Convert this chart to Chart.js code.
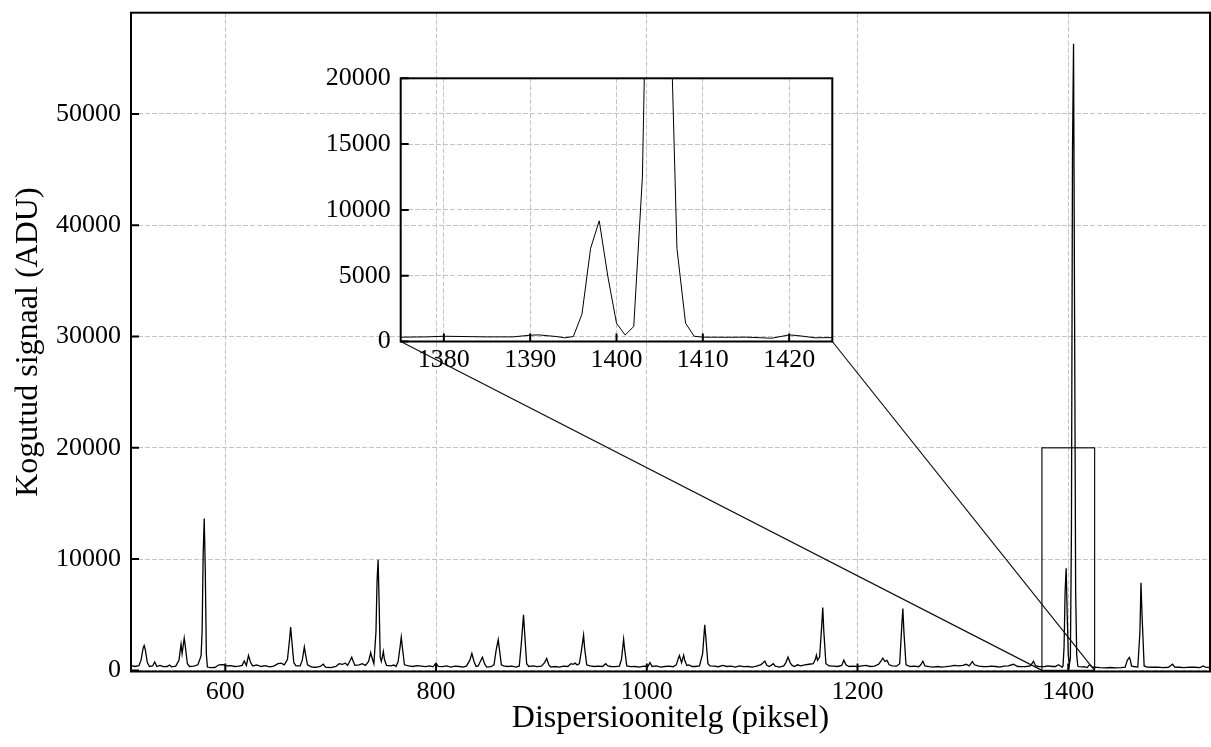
<!DOCTYPE html>
<html>
<head>
<meta charset="utf-8">
<script src="https://cdn.jsdelivr.net/npm/chart.js@4"></script>
<style>
  body { margin: 0; background: #fff; }
  #wrap { position: relative; width: 1211px; height: 747px; }
  #main { position: absolute; left: 0; top: 0; }
  #zoom { position: absolute; left: 300px; top: 66px; }
</style>
</head>
<body>
<div id="wrap">
  <canvas id="main" width="1211" height="747"></canvas>
  <canvas id="zoom" width="545" height="316"></canvas>
</div>
<script>
const pixels = [
  511, 514, 518, 520, 522, 523, 524, 526, 528, 531, 533, 535, 538, 541, 545, 547, 549, 553, 556, 558,
  559, 561, 562, 564, 566, 570, 574, 577, 578, 579, 580, 581, 582, 583, 586, 590, 594, 598, 601, 605,
  609, 613, 616, 618, 620, 622, 624, 626, 630, 634, 638, 642, 646, 650, 653, 656, 659, 661, 662, 663,
  665, 667, 671, 673, 675, 676, 678, 682, 686, 690, 693, 695, 700, 705, 708, 711, 714, 716, 718, 720,
  721, 723, 727, 730, 733, 736, 738, 739, 741, 743, 744, 745, 746, 747, 748, 749, 750, 751, 753, 757,
  760, 762, 764, 766, 767, 768, 770, 774, 778, 782, 786, 790, 794, 797, 800, 802, 806, 810, 814, 818,
  822, 826, 829, 832, 834, 836, 838, 840, 842, 844, 846, 848, 852, 855, 857, 859, 860, 862, 864, 868,
  872, 876, 879, 881, 883, 884, 886, 888, 892, 896, 900, 903, 905, 907, 909, 913, 917, 921, 925, 928,
  930, 932, 934, 936, 938, 940, 941, 943, 946, 950, 954, 958, 961, 963, 966, 970, 974, 976, 978, 979,
  981, 985, 989, 993, 997, 1001, 1003, 1005, 1009, 1013, 1017, 1021, 1025, 1028, 1030, 1031, 1033, 1035, 1036, 1038,
  1040, 1043, 1046, 1050, 1053, 1055, 1056, 1058, 1060, 1064, 1068, 1072, 1076, 1080, 1084, 1088, 1092, 1096, 1100, 1104,
  1108, 1110, 1112, 1114, 1116, 1118, 1120, 1122, 1126, 1130, 1132, 1134, 1136, 1138, 1140, 1143, 1146, 1150, 1154, 1158,
  1160, 1161, 1162, 1164, 1166, 1167, 1168, 1170, 1173, 1177, 1181, 1185, 1187, 1189, 1192, 1196, 1200, 1204, 1208, 1212,
  1216, 1220, 1222, 1224, 1226, 1228, 1230, 1233, 1237, 1240, 1242, 1243, 1244, 1246, 1250, 1254, 1258, 1260, 1262, 1264,
  1268, 1272, 1276, 1280, 1284, 1288, 1292, 1296, 1300, 1303, 1306, 1309, 1311, 1315, 1319, 1323, 1327, 1331, 1335, 1339,
  1343, 1348, 1352, 1356, 1360, 1364, 1367, 1369, 1372, 1375, 1378, 1380, 1383, 1385, 1388, 1390, 1391, 1393, 1394, 1395,
  1396, 1397, 1398, 1399, 1400, 1401, 1402, 1403, 1404, 1405, 1406, 1407, 1408, 1409, 1410, 1413, 1415, 1418, 1420, 1421,
  1423, 1425, 1430, 1435, 1440, 1445, 1450, 1454, 1456, 1458, 1459, 1460, 1462, 1466, 1468, 1469, 1470, 1472, 1475, 1480,
  1485, 1490, 1495, 1499, 1501, 1505, 1510, 1515, 1520, 1525, 1528, 1530, 1534
];
const signal = [
  420, 350, 420, 900, 2000, 2230, 1900, 700, 350, 400, 750, 350, 450, 330, 350, 480, 320, 380, 900, 2350,
  1500, 2900, 2200, 600, 350, 380, 500, 1300, 3500, 10500, 13650, 9000, 1500, 300, 250, 260, 500, 520, 400, 420,
  350, 380, 450, 850, 450, 1340, 700, 400, 500, 350, 420, 320, 380, 600, 650, 500, 1000, 2800, 3900, 2800,
  700, 400, 400, 900, 2100, 1500, 500, 300, 280, 350, 550, 300, 250, 350, 600, 550, 650, 450, 800, 1190,
  900, 450, 500, 600, 450, 800, 1600, 1200, 600, 3500, 8000, 9950, 6000, 1200, 800, 1200, 1700, 1000, 450, 400,
  480, 350, 800, 2200, 3000, 2100, 500, 400, 350, 420, 380, 330, 400, 320, 650, 350, 330, 400, 300, 380,
  350, 300, 400, 900, 1520, 800, 350, 400, 800, 1190, 600, 300, 330, 500, 1800, 2770, 2000, 500, 400, 350,
  380, 300, 400, 2500, 4990, 3500, 600, 350, 400, 330, 380, 700, 1070, 500, 300, 350, 300, 380, 350, 600,
  550, 650, 480, 600, 1800, 3160, 2000, 500, 400, 350, 380, 350, 600, 400, 350, 330, 380, 1000, 2800, 1900,
  400, 330, 350, 300, 380, 350, 700, 350, 400, 300, 350, 380, 330, 500, 1100, 1340, 700, 1370, 900, 450,
  500, 350, 350, 400, 1500, 4090, 3000, 600, 400, 380, 330, 450, 350, 380, 300, 400, 330, 350, 300, 380,
  500, 650, 830, 450, 350, 450, 600, 380, 300, 400, 700, 1200, 700, 450, 350, 500, 400, 500, 550, 600,
  1000, 1370, 900, 1200, 4000, 5650, 3500, 600, 400, 380, 350, 450, 920, 500, 350, 380, 330, 400, 450, 350,
  380, 550, 800, 1100, 800, 900, 500, 400, 380, 600, 4000, 5560, 3500, 500, 350, 380, 330, 500, 820, 400,
  330, 300, 350, 300, 330, 380, 450, 400, 450, 550, 400, 790, 500, 380, 350, 330, 380, 350, 300, 380,
  400, 550, 350, 330, 350, 400, 820, 400, 350, 330, 350, 400, 370, 350, 350, 480, 500, 380, 280, 380,
  2080, 7080, 9170, 4930, 1390, 490, 1140, 12500, 46600, 56300, 31500, 7080, 1390, 400, 330, 320, 330, 250, 500, 450,
  280, 300, 250, 230, 260, 230, 250, 300, 900, 1160, 900, 400, 350, 300, 3500, 7865, 5000, 400, 300, 280,
  300, 250, 280, 550, 300, 280, 250, 300, 280, 250, 400, 300, 250
];
const mainXTicks = [600, 800, 1000, 1200, 1400];
const mainYTicks = [0, 10000, 20000, 30000, 40000, 50000];
const zoomX = [1375, 1425];
const zoomY = [0, 20000];
const zoomXTicks = [1380, 1390, 1400, 1410, 1420];
const zoomYTicks = [0, 5000, 10000, 15000, 20000];

const points = pixels.map((p, i) => ({ x: p, y: signal[i] }));
const serif = "'Liberation Serif', 'Times New Roman', serif";
const gridStyle = { color: '#c4c4c4', lineWidth: 1, drawTicks: false };
const borderStyle = { display: false, dash: [5, 2] };
const plain = v => String(v);

// matplotlib-like frame with inward ticks on left and bottom
const framePlugin = {
  id: 'frame',
  afterDraw(chart) {
    const { ctx, chartArea: a, scales } = chart;
    ctx.save();
    ctx.strokeStyle = '#000';
    ctx.lineWidth = 2;
    ctx.strokeRect(a.left, a.top, a.right - a.left, a.bottom - a.top);
    ctx.beginPath();
    scales.x.ticks.forEach(t => {
      const px = scales.x.getPixelForValue(t.value);
      ctx.moveTo(px, a.bottom);
      ctx.lineTo(px, a.bottom - 8);
    });
    scales.y.ticks.forEach(t => {
      const py = scales.y.getPixelForValue(t.value);
      ctx.moveTo(a.left, py);
      ctx.lineTo(a.left + 8, py);
    });
    ctx.stroke();
    ctx.restore();
  }
};

function fixTicks(list) {
  return scale => { scale.ticks = list.map(v => ({ value: v })); };
}
function fitX(h) {
  return s => { s.height = h; s.paddingLeft = 0; s.paddingRight = 0; };
}
function fitY(w) {
  return s => { s.width = w; s.paddingTop = 0; s.paddingBottom = 0; };
}

// inset first, so the main chart can find its corners
const zoomChart = new Chart(document.getElementById('zoom'), {
  type: 'line',
  data: { datasets: [{ data: points, borderColor: '#000', borderWidth: 1, pointRadius: 0, tension: 0 }] },
  options: {
    responsive: false,
    animation: false,
    layout: { padding: { top: 12.3, right: 12.7, left: 0, bottom: 0 } },
    plugins: { legend: { display: false }, tooltip: { enabled: false } },
    scales: {
      x: {
        type: 'linear', min: zoomX[0], max: zoomX[1],
        afterBuildTicks: fixTicks(zoomXTicks),
        afterFit: fitX(40.5),
        grid: gridStyle, border: borderStyle,
        ticks: { color: '#000', font: { family: serif, size: 26 }, padding: 3, callback: plain }
      },
      y: {
        min: zoomY[0], max: zoomY[1],
        afterBuildTicks: fixTicks(zoomYTicks),
        afterFit: fitY(100.7),
        grid: gridStyle, border: borderStyle,
        ticks: { color: '#000', font: { family: serif, size: 26 }, padding: 10, callback: plain }
      }
    }
  },
  plugins: [framePlugin]
});

const zoomMarks = {
  id: 'zoomMarks',
  afterDraw(chart) {
    const { ctx, scales: { x, y } } = chart;
    const x0 = x.getPixelForValue(zoomX[0]), x1 = x.getPixelForValue(zoomX[1]);
    const y0 = y.getPixelForValue(zoomY[0]), y1 = y.getPixelForValue(zoomY[1]);
    const ia = zoomChart.chartArea;
    const ox = zoomChart.canvas.offsetLeft, oy = zoomChart.canvas.offsetTop;
    ctx.save();
    ctx.strokeStyle = '#111';
    ctx.lineWidth = 1.2;
    ctx.strokeRect(x0, y1, x1 - x0, y0 - y1);
    ctx.beginPath();
    ctx.moveTo(ox + ia.left, oy + ia.bottom);
    ctx.lineTo(x0, y0);
    ctx.moveTo(ox + ia.right, oy + ia.bottom);
    ctx.lineTo(x1, y0);
    ctx.stroke();
    ctx.restore();
  }
};

new Chart(document.getElementById('main'), {
  type: 'line',
  data: { datasets: [{ data: points, borderColor: '#000', borderWidth: 1.3, pointRadius: 0, tension: 0 }] },
  options: {
    responsive: false,
    animation: false,
    layout: { padding: { top: 12.7, right: 1, left: 0, bottom: 0 } },
    plugins: { legend: { display: false }, tooltip: { enabled: false } },
    scales: {
      x: {
        type: 'linear', min: 510.5, max: 1534.5,
        afterBuildTicks: fixTicks(mainXTicks),
        afterFit: fitX(75.5),
        grid: gridStyle, border: borderStyle,
        ticks: { color: '#000', font: { family: serif, size: 26 }, padding: 5, callback: plain },
        title: { display: true, text: 'Dispersioonitelg (piksel)', color: '#000',
                 font: { family: serif, size: 32 }, padding: { bottom: 9 } }
      },
      y: {
        min: -100, max: 59100,
        afterBuildTicks: fixTicks(mainYTicks),
        afterFit: fitY(131),
        grid: gridStyle, border: borderStyle,
        ticks: { color: '#000', font: { family: serif, size: 26 }, padding: 10, callback: plain },
        title: { display: true, text: 'Kogutud signaal (ADU)', color: '#000',
                 font: { family: serif, size: 32 }, padding: { top: 9 } }
      }
    }
  },
  plugins: [framePlugin, zoomMarks]
});
</script>
</body>
</html>
